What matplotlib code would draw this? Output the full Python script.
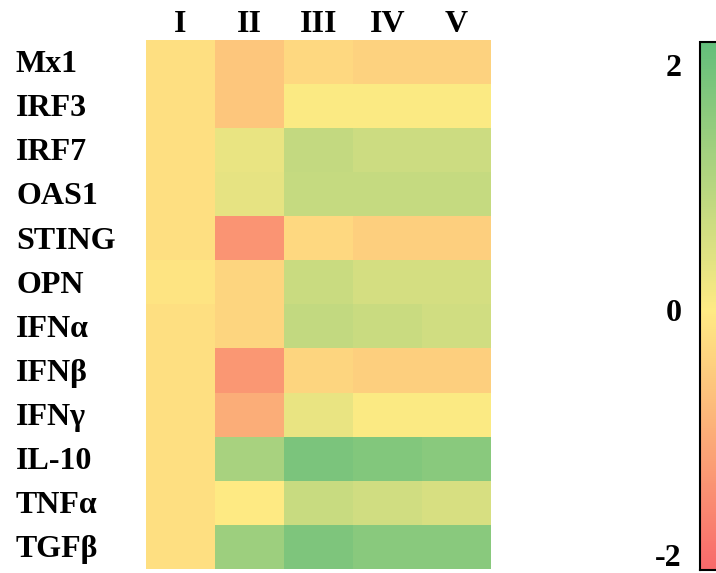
import matplotlib
matplotlib.use("Agg")
import matplotlib.pyplot as plt
import matplotlib.transforms as mtransforms
from matplotlib.colors import LinearSegmentedColormap, Normalize
import numpy as np

genes = ["Mx1", "IRF3", "IRF7", "OAS1", "STING", "OPN", "IFNα", "IFNβ",
         "IFNγ", "IL-10", "TNFα", "TGFβ"]
groups = ["I", "II", "III", "IV", "V"]

col_I   = [-0.2, -0.2, -0.2, -0.2, -0.2, -0.1, -0.2, -0.2, -0.2, -0.2, -0.2, -0.2]
col_II  = [-0.6, -0.6, 0.3, 0.35, -1.4, -0.35, -0.35, -1.35, -1.0, 1.2, 0.0, 1.35]
col_III = [-0.3, 0.05, 0.83, 0.8, -0.3, 0.75, 0.85, -0.35, 0.3, 1.85, 0.77, 1.8]
col_IV  = [-0.4, 0.05, 0.7, 0.8, -0.45, 0.6, 0.75, -0.45, 0.05, 1.75, 0.65, 1.65]
col_V   = [-0.4, 0.05, 0.7, 0.8, -0.45, 0.6, 0.65, -0.45, 0.05, 1.65, 0.55, 1.65]

colorbar_ticks = [-2, 0, 2]
colorbar_labels = ["-2", "0", "2"]

data = np.array([col_I, col_II, col_III, col_IV, col_V]).T

vmin, vmax = -2.12, 2.19
mid = (0 - vmin) / (vmax - vmin)
cmap = LinearSegmentedColormap.from_list(
    "ryg", [(0.0, "#F8696B"), (mid, "#FFEB84"), (1.0, "#63BE7B")])
norm = Normalize(vmin=vmin, vmax=vmax)

plt.rcParams["font.family"] = ["Liberation Serif", "DejaVu Serif"]
plt.rcParams["font.weight"] = "bold"
fs = 23

fig = plt.figure(figsize=(7.16, 5.73), dpi=100)
ax = fig.add_axes([146/716, 1-569/573, (491-146)/716, (569-40)/573])
im = ax.imshow(data, cmap=cmap, norm=norm, aspect="auto", interpolation="nearest")
for s in ax.spines.values():
    s.set_visible(False)
ax.set_yticks([])
ax.set_xticks(range(len(groups)))
ax.set_xticklabels(groups, fontsize=fs, fontweight="bold")
ax.xaxis.tick_top()
ax.tick_params(axis="x", length=0, pad=1)

trans = mtransforms.blended_transform_factory(fig.transFigure, ax.transData)
for i, g in enumerate(genes):
    ax.text(16/716, i + 0.06, g, transform=trans, ha="left", va="center",
            fontsize=fs, fontweight="bold")

cax = fig.add_axes([700/716, 1-570/573, 40/716, (570-42)/573])
cb = fig.colorbar(im, cax=cax, ticks=colorbar_ticks)
cb.ax.yaxis.set_ticks_position("left")
cb.ax.set_yticklabels(colorbar_labels, fontsize=fs, fontweight="bold")
cb.ax.tick_params(length=0, pad=13)
cb.outline.set_linewidth(1.5)

fig.savefig("out.png", dpi=100)
